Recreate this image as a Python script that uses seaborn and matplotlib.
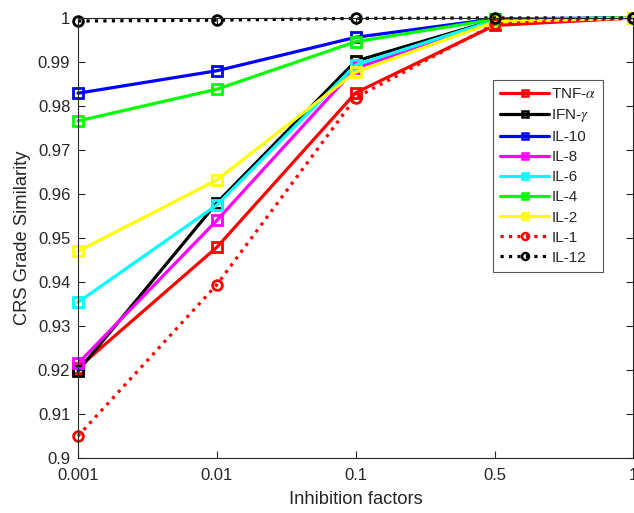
import numpy as np
import pandas as pd
import seaborn as sns
import matplotlib
matplotlib.use("Agg")
import matplotlib.pyplot as plt

# inhibition factors (categorical x axis)
factors = ["0.001", "0.01", "0.1", "0.5", "1"]

names = ["TNF-$\\alpha$", "IFN-$\\gamma$", "IL-10", "IL-8", "IL-6", "IL-4", "IL-2", "IL-1", "IL-12"]

tnf_a = [0.9205, 0.9479, 0.9830, 0.9983, 1.0]
ifn_g = [0.9198, 0.9580, 0.9902, 0.9995, 1.0]
il_10 = [0.9829, 0.9880, 0.9956, 0.9998, 1.0]
il_8 = [0.9215, 0.9540, 0.9886, 0.9993, 1.0]
il_6 = [0.9354, 0.9575, 0.9893, 0.9995, 1.0]
il_4 = [0.9766, 0.9838, 0.9946, 0.9997, 1.0]
il_2 = [0.9470, 0.9632, 0.9877, 0.9991, 1.0]
il_1 = [0.9050, 0.9394, 0.9819, 0.9986, 1.0]
il_12 = [0.9993, 0.9995, 0.9999, 1.0, 1.0]

series = [tnf_a, ifn_g, il_10, il_8, il_6, il_4, il_2, il_1, il_12]
colors = ["#ff0000", "#000000", "#0000ff", "#ff00ff", "#00ffff",
          "#00ff00", "#ffff00", "#ff0000", "#000000"]
styles = ["-"] * 7 + [":", ":"]
markers = ["s"] * 7 + ["o", "o"]

sns.set_style("ticks")
plt.rcParams["font.family"] = ["Liberation Sans", "DejaVu Sans"]
plt.rcParams["mathtext.fontset"] = "stix"

fig = plt.figure(figsize=(6.34, 5.13), dpi=100)
ax = fig.add_axes([0.123, 0.107, 0.876, 0.858])

xpos = np.arange(len(factors))
for name, vals, c, ls, m in zip(names, series, colors, styles, markers):
    df = pd.DataFrame({"x": xpos, "y": vals})
    sns.lineplot(data=df, x="x", y="y", ax=ax, color=c, linestyle=ls,
                 linewidth=2.3, marker=m, markersize=6.5 if m == "s" else 7,
                 markerfacecolor="none", markeredgecolor=c,
                 markeredgewidth=2.0, label=name, clip_on=False)

ax.set_xlim(0, 4)
ax.set_ylim(0.9, 1.0)
ax.set_xticks(xpos)
ax.set_xticklabels(factors)
ax.set_yticks(np.round(np.arange(0.9, 1.0001, 0.01), 2))
ax.set_yticklabels(["0.9", "0.91", "0.92", "0.93", "0.94", "0.95",
                    "0.96", "0.97", "0.98", "0.99", "1"])
ax.tick_params(direction="in", length=5, width=0.8, labelsize=12,
               top=True, right=True, colors="#262626")
ax.tick_params(axis="x", pad=7)
ax.tick_params(axis="y", pad=5.5)
for s in ax.spines.values():
    s.set_visible(True)
    s.set_linewidth(0.8)
    s.set_color("#262626")

ax.set_xlabel("Inhibition factors", fontsize=13.2, color="#262626", labelpad=6)
ax.set_ylabel("CRS Grade Similarity", fontsize=13.2, color="#262626", labelpad=5)

leg = ax.legend(loc="upper right", bbox_to_anchor=(0.946, 0.859),
                borderaxespad=0, fontsize=11, handlelength=3.2,
                handletextpad=0.15, labelspacing=0.4, borderpad=0.45,
                fancybox=False, framealpha=1, edgecolor="#555555")
leg.get_frame().set_linewidth(0.8)
for h in leg.get_lines():
    h.set_markersize(5)
    h.set_markeredgewidth(1.8)

fig.savefig("out.png", dpi=100)
